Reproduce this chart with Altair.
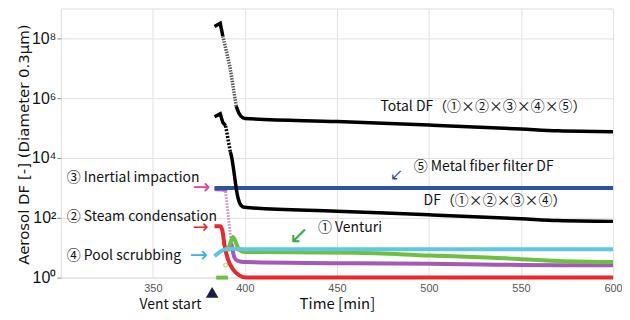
import altair as alt
import pandas as pd

# ---------------- data (time [min], DF [-]) ----------------
# Total DF (1x2x3x4x5)
total_t_a = [383.5, 386.6, 388.0]
total_v_a = [2.5e8, 3.2e8, 1.2e8]
total_t_b = [388.0, 391.9, 395.3]          # steep part drawn with markers
total_v_b = [1.2e8, 1.1e7, 5.4e5]
total_t_c = [395.3, 396.7, 398.9, 400.0, 450, 500, 550, 570, 600]
total_v_c = [5.4e5, 3.2e5, 2.2e5, 2.1e5, 1.66e5, 1.26e5, 9.3e4, 8.1e4, 7.6e4]

# DF (1x2x3x4)
df4_t_a = [383.5, 386.6, 388.0, 389.5]
df4_v_a = [2.4e5, 3.0e5, 1.55e5, 1.2e5]
df4_t_b = [389.5, 392.1]
df4_v_b = [1.2e5, 1.6e4]
df4_t_c = [392.1, 392.6, 396.2, 398.0, 399.8, 450, 500, 550, 570, 600]
df4_v_c = [1.6e4, 1.23e4, 480, 257, 224, 166, 126, 93, 81, 76]

# (5) Metal fiber filter DF
metal_t = [383.5, 600]
metal_v = [1000, 1000]

# (3) Inertial impaction
inert_t_a = [383.5, 389.0, 389.5]
inert_v_a = [900, 890, 760]
inert_t_b = [389.5, 392.6]
inert_v_b = [760, 14]
inert_t_c = [392.6, 394.4, 396.2, 399.8, 460, 500, 570, 600]
inert_v_c = [14, 4.6, 3.6, 3.3, 3.0, 2.9, 2.6, 2.6]

# (2) Steam condensation
steam_t = [383.5, 386.6, 387.7, 389.0, 390.8, 393.5, 397.1, 400.7, 600]
steam_v = [52, 52, 39, 11.2, 4.1, 1.9, 1.17, 1.0, 1.0]

# (4) Pool scrubbing
pool_t = [383.5, 386.0, 389.0, 392.0, 396.0, 400.0, 600]
pool_v = [5.2, 7.0, 8.8, 9.3, 9.0, 8.9, 8.9]

# (1) Venturi
vent_t_a = [384.4, 390.8]
vent_v_a = [1.0, 1.0]
vent_pt_t = [389.5]
vent_pt_v = [2.6]
vent_t_b = [390.8, 392.3, 393.5, 394.6, 395.5, 397.1, 400, 460, 500, 535, 570, 600]
vent_v_b = [7.6, 15.8, 23, 17.8, 12.6, 8.3, 7.2, 6.8, 5.5, 4.6, 3.6, 3.3]

# annotations
ann_text = ["③ Inertial impaction", "② Steam condensation", "④ Pool scrubbing",
            "① Venturi", "⑤ Metal fiber filter DF",
            "Total DF（①×②×③×④×⑤）", "DF（①×②×③×④）"]
ann_t = [303.2, 303.2, 303.2, 439.7, 491.7, 473.7, 497.1]
ann_v = [2090, 110, 5.2, 47, 5000, 5.1e5, 363]

arrow_text = ["→", "→", "→", "↙", "↙"]
arrow_t = [376.6, 376.0, 375.0, 429.4, 482.5]
arrow_v = [977, 51, 5.7, 24, 2630]
arrow_col = ["#e8409a", "#e8282b", "#3ab4e8", "#3aaa4a", "#2c52a0"]
arrow_size = [21, 19, 22, 24, 16]

vent_label_t = [359.6]
vent_label_v = [0.12]
vent_mark_t = [382.2]
vent_mark_v = [0.32]

x_ticks = [350, 400, 450, 500, 550, 600]
y_ticks = [1, 1e2, 1e4, 1e6, 1e8]

FONT = "Noto Sans CJK JP"
W, H = 554, 270

xenc = alt.X("t:Q",
             scale=alt.Scale(domain=[300, 600], nice=False, zero=False),
             axis=alt.Axis(values=x_ticks, grid=True, ticks=False, domain=False,
                           labelFontSize=11, labelColor="#555555", labelFont="Liberation Sans",
                           labelPadding=5, labelFlush=False,
                           title="Time [min]", titleFont=FONT, titleFontSize=15,
                           titleFontWeight="normal", titleColor="#111111", titlePadding=3,
                           gridColor="#e2e2e2"))
yenc = alt.Y("v:Q",
             scale=alt.Scale(type="log", domain=[1, 1e9], nice=False),
             axis=alt.Axis(values=y_ticks, grid=True, ticks=True, tickSize=4,
                           tickColor="#8a8a8a", domain=False,
                           labelExpr="datum.value == 1 ? '10⁰' : datum.value == 100 ? '10²' : datum.value == 10000 ? '10⁴' : datum.value == 1000000 ? '10⁶' : '10⁸'",
                           labelFontSize=16, labelColor="#111111", labelFont="Liberation Sans",
                           labelPadding=1,
                           title="Aerosol DF [-]  (Diameter 0.3μm)", titleFont="DejaVu Sans",
                           titleFontSize=15, titleFontWeight="normal", titleColor="#111111",
                           titleX=-37, titleY=H / 2 + 1, titleAngle=270,
                           titleBaseline="middle", titleAlign="center",
                           gridColor="#e2e2e2"))


def line(t, v, color, width=4.0, dash=None, interp="monotone"):
    kw = dict(color=color, strokeWidth=width, interpolate=interp, clip=False)
    if dash:
        kw["strokeDash"] = dash
    return alt.Chart(pd.DataFrame({"t": t, "v": v})).mark_line(**kw).encode(x=xenc, y=yenc)


def texts(t, v, s, **kw):
    return alt.Chart(pd.DataFrame({"t": t, "v": v, "s": s})).mark_text(**kw).encode(
        x=xenc, y=yenc, text="s:N")


PURPLE = "#a35ab7"
RED = "#e8282b"
CYAN = "#5ec8e2"
GREEN = "#6cbf3f"
BLUE = "#2c52a0"

layers = [
    line(inert_t_a, inert_v_a, PURPLE),
    line(inert_t_b, inert_v_b, "#c58bd6", width=3, dash=[1.5, 1.5], interp="linear"),
    line(inert_t_c, inert_v_c, PURPLE),
    line(steam_t, steam_v, RED),
    line(vent_t_a, vent_v_a, GREEN),
    line(vent_t_b, vent_v_b, GREEN),
    alt.Chart(pd.DataFrame({"t": vent_pt_t, "v": vent_pt_v})).mark_point(
        shape="circle", size=14, color=GREEN, strokeWidth=1, filled=False).encode(x=xenc, y=yenc),
    line(pool_t, pool_v, CYAN),
    line(metal_t, metal_v, BLUE, interp="linear"),
    line(df4_t_a, df4_v_a, "#000000", width=3.5, interp="linear"),
    line(df4_t_b, df4_v_b, "#000000", width=3.5, dash=[2, 1.5], interp="linear"),
    line(df4_t_c, df4_v_c, "#000000", width=3.5),
    line(total_t_a, total_v_a, "#000000", width=3.5, interp="linear"),
    line(total_t_b, total_v_b, "#555555", width=3.5, dash=[1.5, 1.2], interp="linear"),
    line(total_t_c, total_v_c, "#000000", width=3.5),
    texts(ann_t, ann_v, ann_text, align="left", baseline="middle", font=FONT,
          fontSize=14, color="#111111"),
]
for i in range(len(arrow_text)):
    layers.append(texts([arrow_t[i]], [arrow_v[i]], [arrow_text[i]], align="center",
                        baseline="middle", font="DejaVu Sans", fontSize=arrow_size[i],
                        color=arrow_col[i]))
layers.append(texts(vent_label_t, vent_label_v, ["Vent start"], align="center",
                    baseline="middle", font=FONT, fontSize=14, color="#111111"))
layers.append(alt.Chart(pd.DataFrame({"t": vent_mark_t, "v": vent_mark_v})).mark_point(
    shape="triangle-up", size=160, filled=True, color="#1c1c4a", opacity=1).encode(x=xenc, y=yenc))

chart = alt.layer(*layers).properties(
    width=W, height=H,
    autosize=alt.AutoSizeParams(type="none"),
    padding={"left": 53, "top": 0, "right": 9, "bottom": 34},
).configure_view(stroke="#8a8a8a", strokeWidth=1).configure(background="white")

chart.save("out.html", embed_options={"renderer": "svg", "actions": False})
